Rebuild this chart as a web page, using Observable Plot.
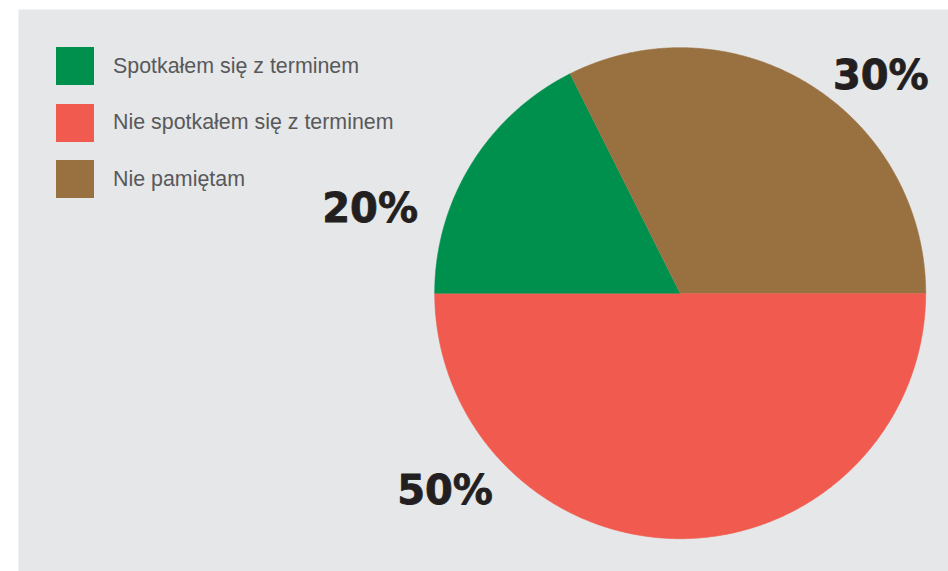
<!DOCTYPE html>
<html>
<head>
<meta charset="utf-8">
<script src="https://cdn.jsdelivr.net/npm/d3@7"></script>
<script src="https://cdn.jsdelivr.net/npm/@observablehq/plot@0.6"></script>
<style>
  html, body { margin: 0; padding: 0; background: #ffffff; }
  #wrap { position: relative; width: 948px; height: 571px; }
  #legend { position: absolute; left: 56px; top: 47px; font-family: "Liberation Sans", Arial, sans-serif; font-size: 21.4px; color: #58595B; }
  .item { display: flex; align-items: center; height: 38px; margin-bottom: 18.5px; }
  .sw { width: 38px; height: 38px; margin-right: 19px; flex: none; }
</style>
</head>
<body>
<div id="wrap"></div>
<script>
// ---- data ----
const categories = ["Spotkałem się z terminem", "Nie spotkałem się z terminem", "Nie pamiętam"];
const shares = [17.6, 50, 32.4];          // slice sizes as drawn in the picture
const labels = ["20%", "50%", "30%"];     // printed percentages
const colors = ["#00904E", "#F05A4F", "#99703F"];
const pieOrder = [1, 0, 2];               // drawing order clockwise from 3 o'clock

// ---- layout (unit-circle coordinates, radius = 1) ----
const labelPos = [[-1.458, 0.341], [-1.153, -0.806], [0.622, 0.885]];

const pie = d3.pie().sort(null).value(i => shares[i])
  .startAngle(Math.PI / 2).endAngle(Math.PI / 2 + 2 * Math.PI);
const arcs = pie(pieOrder);

const pts = [];
for (const a of arcs) {
  const cat = categories[a.data];
  pts.push({cat, x: 0, y: 0});
  const n = Math.max(2, Math.ceil((a.endAngle - a.startAngle) / 0.005));
  for (let k = 0; k <= n; k++) {
    const t = a.startAngle + (a.endAngle - a.startAngle) * k / n;
    pts.push({cat, x: Math.sin(t), y: Math.cos(t)});
  }
}

const labelData = categories.map((c, i) => ({cat: c, text: labels[i], x: labelPos[i][0], y: labelPos[i][1]}));

const R = 245.5, cx = 679.7, cy = 292.7;
const plot = Plot.plot({
  width: 948,
  height: 571,
  marginLeft: 18, marginTop: 9, marginRight: 0, marginBottom: 0,
  x: {domain: [(18 - cx) / R, (948 - cx) / R], axis: null},
  y: {domain: [(cy - 571) / R, (cy - 9) / R], axis: null},
  color: {domain: categories, range: colors},
  style: {background: "transparent"},
  marks: [
    Plot.frame({fill: "#E6E7E8", stroke: "none"}),
    Plot.line(pts, {x: "x", y: "y", z: "cat", fill: "cat", stroke: "cat", strokeWidth: 0.6, curve: "linear"}),
    Plot.text(labelData, {x: "x", y: "y", text: "text", textAnchor: "start",
      fontFamily: "DejaVu Sans", fontWeight: "bold", fontSize: 40, fill: "#231F20",
      stroke: "#231F20", strokeWidth: 0.8})
  ]
});

const wrap = document.getElementById("wrap");
wrap.appendChild(plot);
const legend = document.createElement("div");
legend.id = "legend";
categories.forEach((c, i) => {
  const it = document.createElement("div");
  it.className = "item";
  const sw = document.createElement("div");
  sw.className = "sw";
  sw.style.background = colors[i];
  const tx = document.createElement("span");
  tx.textContent = c;
  it.appendChild(sw); it.appendChild(tx);
  legend.appendChild(it);
});
wrap.appendChild(legend);
</script>
</body>
</html>
